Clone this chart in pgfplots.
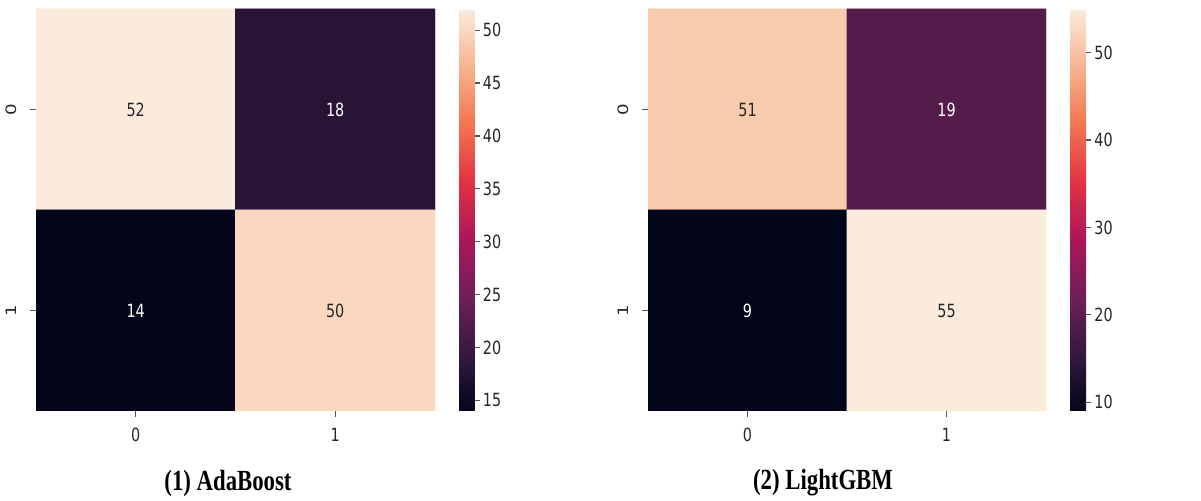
\documentclass[border=0pt]{standalone}
\usepackage{fontspec}
\setmainfont{Liberation Serif}
\newfontfamily\djv{DejaVu Sans}
\usepackage{graphicx}
\usepackage{pgfplots}
\pgfplotsset{compat=1.18}
\definecolor{txtdark}{HTML}{262626}
\definecolor{tickgray}{HTML}{555555}
\newcommand{\sq}[1]{\scalebox{0.79}[1]{#1}}
\newcommand{\sqv}[1]{\scalebox{1}[0.79]{#1}}
\pgfplotsset{
  colormap={rocket}{rgb255(0cm)=(3,5,26) rgb255(1cm)=(53,25,62) rgb255(2cm)=(112,31,87) rgb255(3cm)=(173,23,89) rgb255(4cm)=(225,51,66) rgb255(5cm)=(243,118,81) rgb255(6cm)=(246,180,143) rgb255(7cm)=(250,235,221)},
  hm/.style={
    scale only axis, height=201pt,
    xmin=-0.5, xmax=1.5, ymin=-0.5, ymax=1.5, y dir=reverse,
    enlargelimits=false,
    axis line style={draw=none},
    xtick={0,1}, ytick={0,1},
    xticklabels={\sq{0},\sq{1}},
    yticklabels={\sqv{0},\sqv{1}},
    xtick pos=left, ytick pos=left,
    tick align=outside, major tick length=3pt,
    tick style={color=tickgray, line width=0.6pt},
    ticklabel style={font=\djv\fontsize{9.1pt}{11pt}\selectfont, text=txtdark},
    yticklabel style={rotate=90, anchor=south, inner sep=0pt, yshift=6.5pt},
    xticklabel style={anchor=north, inner sep=0pt, yshift=-5.5pt},
    colormap name=rocket,
    colorbar,
    colorbar style={
      at={(parent axis.north east)}, anchor=north west, xshift=3.5pt,
      width=7.75pt, height=201pt, scale only axis,
      axis line style={draw=none},
      ytick pos=right, tick align=outside, major tick length=2.5pt,
      tick style={color=tickgray, line width=0.6pt},
      yticklabel style={font=\djv\fontsize{9.1pt}{11pt}\selectfont, text=txtdark, anchor=west, inner sep=0pt, xshift=1.5pt},
    },
  },
  celltxt/.style={draw=none, nodes near coords, point meta=explicit symbolic,
    every node near coord/.append style={anchor=center, font=\djv\fontsize{9.1pt}{11pt}\selectfont, text=#1}},
}
\begin{document}
\begin{tikzpicture}
\path (0,0) rectangle (600.5pt,-250.5pt);
% left heatmap
\begin{axis}[hm, at={(18pt,-4.5pt)}, anchor=north west, width=199.5pt,
  point meta min=14, point meta max=52,
  colorbar style={ytick={15,20,25,30,35,40,45,50},
    yticklabels={\sq{15},\sq{20},\sq{25},\sq{30},\sq{35},\sq{40},\sq{45},\sq{50}}}]
\addplot[matrix plot*, mesh/cols=2, point meta=explicit] table[meta=c] {
x y c
0 0 52
1 0 18
0 1 14
1 1 50
};
\addplot[celltxt=txtdark] table[meta=l] {
x y l
0 0 \sq{52}
1 1 \sq{50}
};
\addplot[celltxt=white] table[meta=l] {
x y l
1 0 \sq{18}
0 1 \sq{14}
};
\end{axis}
% right heatmap
\begin{axis}[hm, at={(324pt,-4.5pt)}, anchor=north west, width=199pt,
  point meta min=9, point meta max=55,
  colorbar style={width=8pt, ytick={10,20,30,40,50},
    yticklabels={\sq{10},\sq{20},\sq{30},\sq{40},\sq{50}}}]
\addplot[matrix plot*, mesh/cols=2, point meta=explicit] table[meta=c] {
x y c
0 0 51
1 0 19
0 1 9
1 1 55
};
\addplot[celltxt=txtdark] table[meta=l] {
x y l
0 0 \sq{51}
1 1 \sq{55}
};
\addplot[celltxt=white] table[meta=l] {
x y l
1 0 \sq{19}
0 1 \sq{9}
};
\end{axis}
\node[font=\bfseries\fontsize{14.6pt}{17pt}\selectfont, inner sep=0pt] at (114pt,-241.5pt) {\scalebox{0.78}[1]{(1) AdaBoost}};
\node[font=\bfseries\fontsize{14.6pt}{17pt}\selectfont, inner sep=0pt] at (411.5pt,-241.5pt) {\scalebox{0.78}[1]{(2) LightGBM}};
\end{tikzpicture}
\end{document}
